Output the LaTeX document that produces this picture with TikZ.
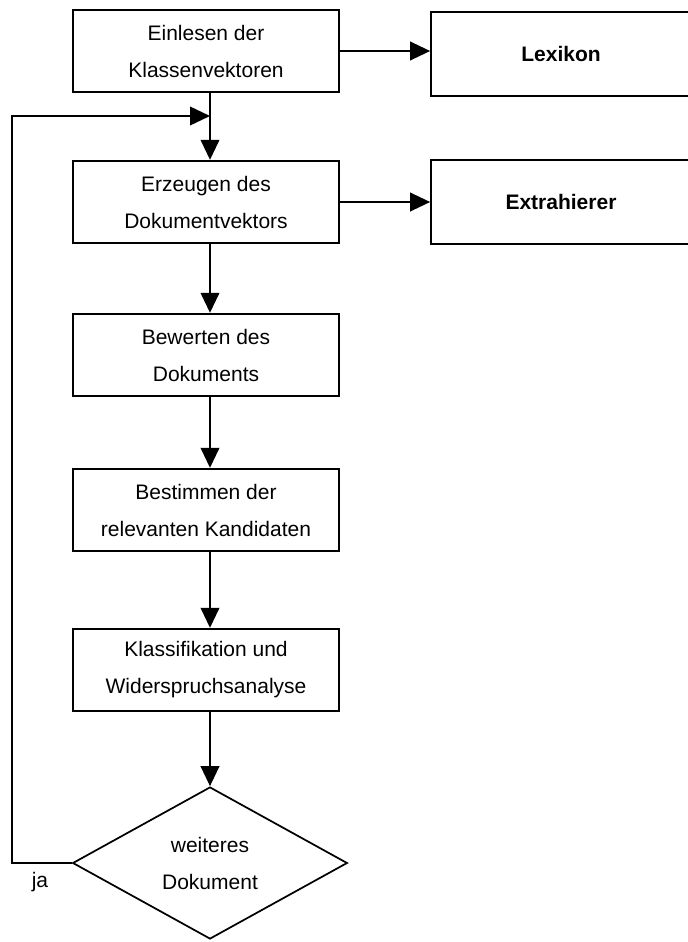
\documentclass[tikz,border=0pt]{standalone}
\usepackage{fontspec}
\setmainfont{Liberation Sans}
\usetikzlibrary{arrows.meta,shapes.geometric}
\begin{document}
\begin{tikzpicture}[x=0.75pt,y=-0.75pt,
  every node/.style={font=\fontsize{15.75pt}{27.75pt}\selectfont},
  stepbox/.style={draw,line width=1.3pt,minimum width=199.5pt,minimum height=62pt,
    inner sep=0pt,align=center},
  sidebox/.style={draw,line width=1.3pt,minimum width=195pt,minimum height=63pt,
    inner sep=0pt,align=center,font=\fontsize{15.75pt}{27.75pt}\selectfont\bfseries},
  decision/.style={draw,diamond,line width=1.3pt,inner sep=0pt,aspect=1.8,
    minimum width=206pt,minimum height=114pt,align=center},
  flow/.style={line width=1.3pt,-{Triangle[length=15pt,width=14pt]}}]
\useasboundingbox (0,0) rectangle (688,942);

% main column of processing steps
\node[stepbox] (b1) at (206,51)  {Einlesen der\\Klassenvektoren};
\node[stepbox] (b2) at (206,202) {Erzeugen des\\Dokumentvektors};
\node[stepbox] (b3) at (206,355) {Bewerten des\\Dokuments};
\node[stepbox] (b4) at (206,510) {Bestimmen der\\relevanten Kandidaten};
\node[stepbox] (b5) at (206,670) {Klassifikation und\\Widerspruchsanalyse};
\node[decision] (dec) at (210,863) {weiteres\\Dokument};

% side components
\node[sidebox] (lex) at (561,54)  {Lexikon};
\node[sidebox] (ext) at (561,202) {Extrahierer};

% spine of the flow and the return path
\coordinate (join) at (210,116);
\coordinate (loopcorner) at (12,863);
\node (ja) at (40,882) {ja};

\draw[flow] (b1.east) -- (lex.west |- b1.east);
\draw[flow] (b2.east) -- (ext.west |- b2.east);
\draw[flow] (b1.south -| join) -- (b2.north -| join);
\draw[flow] (b2.south -| join) -- (b3.north -| join);
\draw[flow] (b3.south -| join) -- (b4.north -| join);
\draw[flow] (b4.south -| join) -- (b5.north -| join);
\draw[flow] (b5.south -| join) -- (dec.north);
\draw[flow] (dec.west) -- (loopcorner) |- (join);
\end{tikzpicture}
\end{document}
